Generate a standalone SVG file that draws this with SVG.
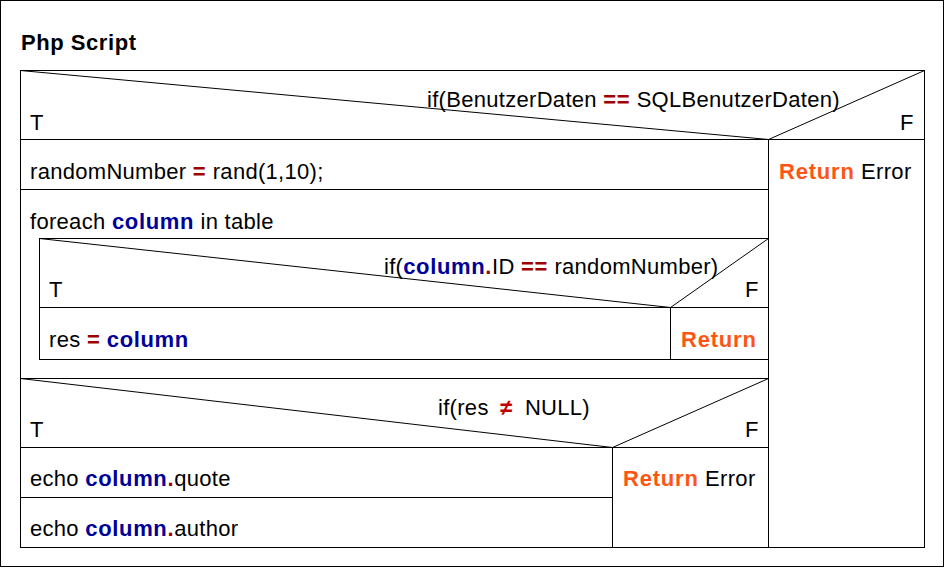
<svg xmlns="http://www.w3.org/2000/svg" width="945" height="568" viewBox="0 0 945 568">
<style>
text{font-family:"Liberation Sans",Arial,sans-serif;font-size:22px;fill:#000;letter-spacing:0.3px}
.b{font-weight:bold;letter-spacing:0.55px}
.op{fill:#A00000;font-weight:bold;letter-spacing:0.6px}
.kw{fill:#000099;font-weight:bold;letter-spacing:0.65px}
.ret{fill:#FF5514;font-weight:bold;letter-spacing:0.8px}
.box{fill:none;stroke:#000;stroke-width:1}
.diag{fill:none;stroke:#000;stroke-width:1}
</style>
<rect x="0.5" y="0.5" width="943" height="566" fill="#fff" stroke="#000" stroke-width="1"/>
<g id="title"><text x="21" y="50" class="b">Php Script</text></g>
<g id="main-if">
<rect class="box" x="20.5" y="70.5" width="904" height="477"/>
<line class="box" x1="20.5" y1="139.5" x2="924.5" y2="139.5"/>
<polyline class="diag" points="20.5,70.5 768.5,139.5 924.5,70.5"/>
<line class="box" x1="768.5" y1="139.5" x2="768.5" y2="547.5"/>
<text x="427" y="107">if(BenutzerDaten <tspan class="op">==</tspan> SQLBenutzerDaten)</text>
<text x="30" y="130">T</text>
<text x="900" y="130">F</text>
</g>
<g id="rand">
<line class="box" x1="20.5" y1="189.5" x2="768.5" y2="189.5"/>
<text x="30" y="179">randomNumber <tspan class="op">=</tspan> rand(1,10);</text>
</g>
<g id="return-error-main"><text x="779" y="179"><tspan class="ret">Return</tspan> Error</text></g>
<g id="foreach">
<line class="box" x1="20.5" y1="378.5" x2="768.5" y2="378.5"/>
<text x="30" y="229">foreach <tspan class="kw">column</tspan> in table</text>
</g>
<g id="inner-if">
<rect class="box" x="39.5" y="238.5" width="729" height="121"/>
<line class="box" x1="39.5" y1="307.5" x2="768.5" y2="307.5"/>
<polyline class="diag" points="39.5,238.5 670.5,307.5 768.5,238.5"/>
<line class="box" x1="670.5" y1="307.5" x2="670.5" y2="359.5"/>
<text x="384" y="274">if(<tspan class="kw">column</tspan><tspan class="op">.</tspan>ID <tspan class="op">==</tspan> randomNumber)</text>
<text x="49" y="297">T</text>
<text x="745" y="297">F</text>
</g>
<g id="res-assign"><text x="49" y="347">res <tspan class="op">=</tspan> <tspan class="kw">column</tspan></text></g>
<g id="return-inner"><text x="681" y="347" class="ret">Return</text></g>
<g id="res-if">
<line class="box" x1="20.5" y1="447.5" x2="768.5" y2="447.5"/>
<polyline class="diag" points="20.5,378.5 612.5,447.5 768.5,378.5"/>
<line class="box" x1="612.5" y1="447.5" x2="612.5" y2="547.5"/>
<text x="438" y="415">if(res <tspan fill="#C00000" font-weight="bold" dx="5">≠</tspan><tspan dx="6"> NULL)</tspan></text>
<text x="30" y="437">T</text>
<text x="745" y="437">F</text>
</g>
<g id="echo-quote">
<line class="box" x1="20.5" y1="497.5" x2="612.5" y2="497.5"/>
<text x="30" y="486">echo <tspan class="kw">column</tspan><tspan class="op">.</tspan>quote</text>
</g>
<g id="echo-author"><text x="30" y="536">echo <tspan class="kw">column</tspan><tspan class="op">.</tspan>author</text></g>
<g id="return-error-res"><text x="623" y="486"><tspan class="ret">Return</tspan> Error</text></g>
<g id="connectors"/>
</svg>
